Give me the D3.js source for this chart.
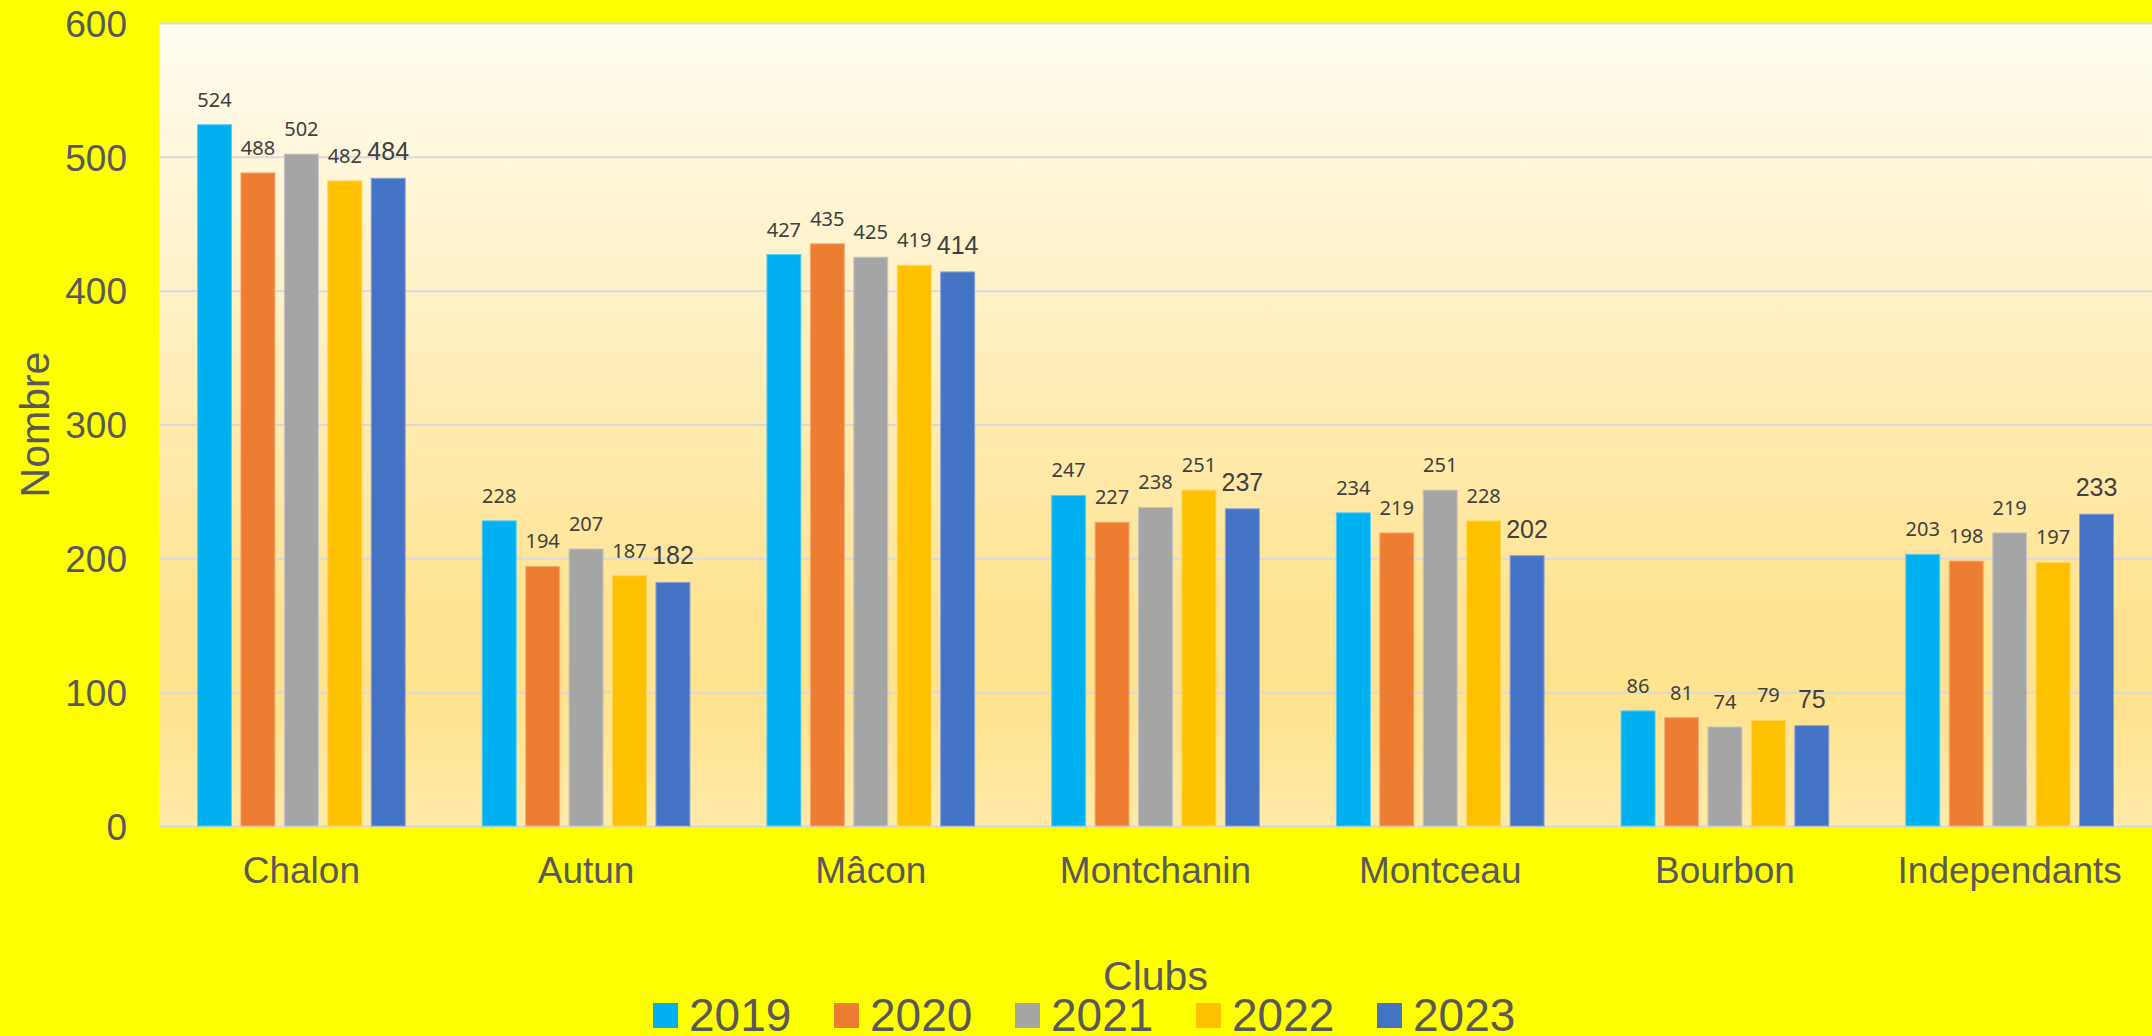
<!DOCTYPE html>
<html>
<head>
<meta charset="utf-8">
<script src="https://cdn.jsdelivr.net/npm/d3@7"></script>
<style>
  body { margin: 0; background: #FFFF00; }
  svg { display: block; }
</style>
</head>
<body>
<div id="chart"></div>
<script>
const clubs = ["Chalon", "Autun", "Mâcon", "Montchanin", "Montceau", "Bourbon", "Independants"];
const years = ["2019", "2020", "2021", "2022", "2023"];
const yearColors = ["#00B0F0", "#ED7D31", "#A5A5A5", "#FFC000", "#4472C4"];
const yTicks = [0, 100, 200, 300, 400, 500, 600];

const values2019 = [524, 228, 427, 247, 234, 86, 203];
const values2020 = [488, 194, 435, 227, 219, 81, 198];
const values2021 = [502, 207, 425, 238, 251, 74, 219];
const values2022 = [482, 187, 419, 251, 228, 79, 197];
const values2023 = [484, 182, 414, 237, 202, 75, 233];
const seriesValues = [values2019, values2020, values2021, values2022, values2023];

const width = 2152;
const height = 1036;
const margin = {top: 23, right: 0, bottom: 210, left: 159};
const plotWidth = width - margin.left - margin.right;
const plotHeight = height - margin.top - margin.bottom;

const svg = d3.select("#chart").append("svg")
  .attr("width", width)
  .attr("height", height);

svg.append("rect")
  .attr("width", width)
  .attr("height", height)
  .attr("fill", "#FFFF00");

const grad = svg.append("defs").append("linearGradient")
  .attr("id", "plotBg")
  .attr("x1", 0).attr("y1", 0)
  .attr("x2", 0).attr("y2", 1);
grad.append("stop").attr("offset", "0").attr("stop-color", "#FFFDF2");
grad.append("stop").attr("offset", "0.74").attr("stop-color", "#FFE391");
grad.append("stop").attr("offset", "0.84").attr("stop-color", "#FFE28E");
grad.append("stop").attr("offset", "1").attr("stop-color", "#FFEAA8");

const g = svg.append("g")
  .attr("transform", `translate(${margin.left},${margin.top})`);

g.append("rect")
  .attr("width", plotWidth)
  .attr("height", plotHeight)
  .attr("fill", "url(#plotBg)");

const x0 = d3.scaleBand()
  .domain(clubs)
  .range([0, plotWidth])
  .padding(0);

// bars in a group span ~208px, leaving ~38px each side
const groupPad = 38.5;
const x1 = d3.scaleBand()
  .domain(years)
  .range([groupPad, x0.bandwidth() - groupPad])
  .paddingInner(0.218)
  .paddingOuter(0);

const y = d3.scaleLinear()
  .domain([0, 600])
  .range([plotHeight, 0]);

// y axis + gridlines
const yAxis = g.append("g")
  .call(d3.axisLeft(y)
    .tickValues(yTicks)
    .tickSize(-plotWidth)
    .tickPadding(32));
yAxis.select(".domain").remove();
yAxis.selectAll("line")
  .attr("stroke", "#D9D9D9")
  .attr("stroke-width", 2);
yAxis.selectAll("text")
  .attr("fill", "#595959")
  .attr("font-family", "'Liberation Sans', Arial, sans-serif")
  .attr("font-size", 37)
  .attr("dy", "0.36em");

// x axis
const xAxis = g.append("g")
  .attr("transform", `translate(0,${plotHeight})`)
  .call(d3.axisBottom(x0).tickSize(0));
xAxis.select(".domain")
  .attr("stroke", "#D9D9D9")
  .attr("stroke-width", 2);
xAxis.selectAll("text")
  .attr("fill", "#595959")
  .attr("font-family", "'Liberation Sans', Arial, sans-serif")
  .attr("font-size", 37)
  .attr("y", 57)
  .attr("dy", 0);

// bars
const groups = g.selectAll(".club")
  .data(clubs)
  .join("g")
  .attr("class", "club")
  .attr("transform", d => `translate(${x0(d)},0)`);

groups.each(function(club, ci) {
  const grp = d3.select(this);
  const rows = years.map((yr, si) => ({year: yr, si: si, value: seriesValues[si][ci]}));

  grp.selectAll("rect")
    .data(rows)
    .join("rect")
    .attr("x", d => x1(d.year))
    .attr("y", d => y(d.value))
    .attr("width", x1.bandwidth())
    .attr("height", d => y(0) - y(d.value))
    .attr("fill", d => yearColors[d.si])
    .attr("stroke", d => d3.interpolateRgb(yearColors[d.si], "#FFFFFF")(0.35))
    .attr("stroke-width", 1);

  grp.selectAll("text")
    .data(rows)
    .join("text")
    .attr("x", d => x1(d.year) + x1.bandwidth() / 2)
    .attr("y", d => y(d.value) - 18)
    .attr("text-anchor", "middle")
    .attr("fill", "#404040")
    .attr("font-family", d => d.si === 4 ? "'Liberation Sans', Arial, sans-serif" : "'Noto Sans', sans-serif")
    .attr("font-size", d => d.si === 4 ? 25 : 20)
    .text(d => d.value);
});

// axis titles
svg.append("text")
  .attr("transform", `translate(49,${margin.top + plotHeight / 2}) rotate(-90)`)
  .attr("text-anchor", "middle")
  .attr("fill", "#595959")
  .attr("font-family", "'Liberation Sans', Arial, sans-serif")
  .attr("font-size", 41)
  .text("Nombre");

svg.append("text")
  .attr("x", margin.left + plotWidth / 2)
  .attr("y", 990)
  .attr("text-anchor", "middle")
  .attr("fill", "#595959")
  .attr("font-family", "'Liberation Sans', Arial, sans-serif")
  .attr("font-size", 41)
  .text("Clubs");

// legend
const legend = svg.append("g")
  .attr("transform", "translate(653,1003)");

const items = legend.selectAll("g")
  .data(years)
  .join("g")
  .attr("transform", (d, i) => `translate(${i * 181},0)`);

items.append("rect")
  .attr("width", 25)
  .attr("height", 25)
  .attr("fill", (d, i) => yearColors[i]);

items.append("text")
  .attr("x", 36)
  .attr("y", 28)
  .attr("fill", "#595959")
  .attr("font-family", "'Liberation Sans', Arial, sans-serif")
  .attr("font-size", 46)
  .text(d => d);
</script>
</body>
</html>
